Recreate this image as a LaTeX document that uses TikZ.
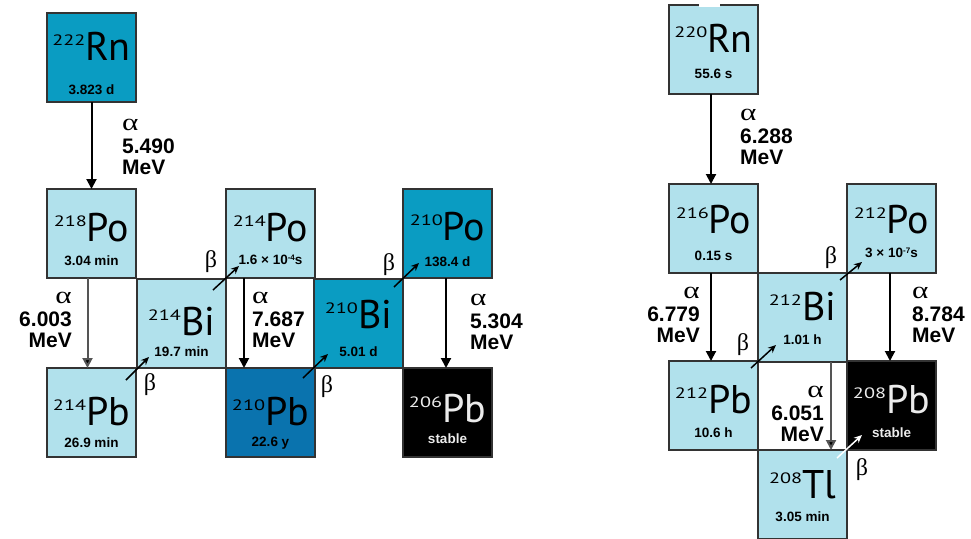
\documentclass[tikz,border=0pt]{standalone}
\usepackage{fontspec}
\usetikzlibrary{arrows.meta}
\newfontfamily\symfont{PT Sans}
\newfontfamily\supfont[FakeStretch=1.35]{PT Sans}
\newfontfamily\hlfont{Liberation Sans}
\newfontfamily\grfont{Liberation Serif}
\newfontfamily\alfont[FakeStretch=1.3]{Liberation Serif}
\definecolor{lightc}{HTML}{B1E1EC}
\definecolor{tealc}{HTML}{0A9CC2}
\definecolor{bluec}{HTML}{0A73AE}
\definecolor{edgec}{HTML}{333333}
\definecolor{greyarr}{HTML}{555555}
\tikzset{
  box/.style={draw=edgec, line width=2pt, minimum width=89pt, minimum height=89pt, inner sep=0pt, outer sep=0pt},
  bx-light/.style={fill=lightc}, bx-teal/.style={fill=tealc}, bx-blue/.style={fill=bluec}, bx-black/.style={fill=black},
  tx-light/.style={text=black}, tx-teal/.style={text=black}, tx-blue/.style={text=black}, tx-black/.style={text=black!8},
  symtxt/.style={inner sep=0pt, anchor=base},
  halftxt/.style={inner sep=0pt, font=\hlfont\bfseries\fontsize{13.5}{14}\selectfont},
  entxt/.style={inner sep=0pt, font=\hlfont\bfseries\fontsize{21}{21}\selectfont},
  altxt/.style={inner sep=0pt, font=\alfont\fontsize{24}{24}\selectfont},
  betxt/.style={inner sep=0pt, font=\grfont\fontsize{24}{24}\selectfont},
  aarr/.style={line width=2pt, draw=black, -{Triangle[width=10pt,length=10pt]}},
  garr/.style={line width=2pt, draw=greyarr, -{Triangle[width=10pt,length=10pt,fill=black]}},
  barr/.style={line width=1.5pt, draw=black, -{Stealth[width=7pt,length=8pt]}},
  warr/.style={line width=1.5pt, draw=white, -{Stealth[width=7pt,length=8pt]}},
}
% name, colour key, x, y, mass, symbol, half-life, symbol baseline offset, half-life offset
\newcommand\isob[9]{%
  \node[box,bx-#2,anchor=north west] (#1) at (#3,#4) {};
  \node[symtxt,tx-#2] (#1-s) at ([yshift=-#8pt]#1.north)
    {\raisebox{0pt}[\height][0pt]{\raisebox{15pt}{\supfont\fontsize{15}{15}\selectfont #5}{\symfont\fontsize{40}{40}\selectfont #6}}};
  \node[halftxt,tx-#2] (#1-h) at ([yshift=-#9pt]#1.north) {#7};
}
% name, side (west/east), x, y of alpha baseline, energy
\newcommand\elab[5]{%
  \node[altxt,anchor=base #2] (#1-a) at (#3,#4) {α};
  \node[entxt,anchor=base #2] (#1-n) at (#3,#4+23) {#5};
  \node[entxt,anchor=base #2] (#1-m) at (#3,#4+44) {MeV};
}
\newcommand\sexp[1]{\raisebox{4.5pt}{\fontsize{8}{8}\selectfont #1}}
\begin{document}
\begin{tikzpicture}[x=1pt,y=-1pt]
\useasboundingbox (0,0) rectangle (971,538);
% ---- uranium (radon-222) chain
\isob{Rn222}{teal}{47}{13}{222}{Rn}{3.823 d}{47}{77}
\isob{Po218}{light}{47}{189}{218}{Po}{3.04 min}{52}{72}
\isob{Bi214}{light}{137}{279}{214}{Bi}{19.7 min}{56}{73}
\isob{Po214}{light}{226}{189}{214}{Po}{1.6 × 10\sexp{-4}s}{52}{71}
\isob{Pb214}{light}{47}{368}{214}{Pb}{26.9 min}{57}{75}
\isob{Pb210}{blue}{226}{368}{210}{Pb}{22.6 y}{57}{75}
\isob{Bi210}{teal}{314}{279}{210}{Bi}{5.01 d}{49}{73}
\isob{Po210}{teal}{403}{189}{210}{Po}{138.4 d}{51}{73}
\isob{Pb206}{black}{403}{368}{206}{Pb}{stable}{54}{71}
% ---- thorium (radon-220) chain
\isob{Rn220}{light}{669}{5}{220}{Rn}{55.6 s}{47}{69}
\isob{Po216}{light}{669}{184}{216}{Po}{0.15 s}{49}{72}
\isob{Po212}{light}{847}{184}{212}{Po}{3 × 10\sexp{-7}s}{49}{69}
\isob{Bi212}{light}{758}{273}{212}{Bi}{1.01 h}{47}{67}
\isob{Pb212}{light}{669}{361}{212}{Pb}{10.6 h}{52}{72}
\isob{Pb208}{black}{847}{361}{208}{Pb}{stable}{52}{72}
\isob{Tl208}{light}{758}{450}{208}{Tl}{3.05 min}{48}{67}
% gap in top border of Rn-220 box
\draw[white,line width=3pt] ([xshift=-14.5pt]Rn220.north) -- ([xshift=6.5pt]Rn220.north);
% ---- alpha decays
\draw[aarr] (Rn222.south) -- (Po218.north);
\draw[garr] ([xshift=-4pt]Po218.south) -- ([xshift=-4pt]Pb214.north);
\draw[aarr] ([xshift=-26.5pt]Po214.south) -- ([xshift=-26.5pt]Pb210.north);
\draw[aarr] ([xshift=-1.5pt]Po210.south) -- ([xshift=-1.5pt]Pb206.north);
\draw[aarr] ([xshift=-2.5pt]Rn220.south) -- ([xshift=-2.5pt]Po216.north);
\draw[aarr] ([xshift=-2.5pt]Po216.south) -- ([xshift=-2.5pt]Pb212.north);
\draw[aarr] ([xshift=-1.5pt]Po212.south) -- ([xshift=-1.5pt]Pb208.north);
\draw[garr] ([xshift=28.5pt]Bi212.south) -- ([xshift=28.5pt]Tl208.north);
\elab{e1}{west}{122}{130}{5.490}
\elab{e2}{east}{72}{303}{6.003}
\elab{e3}{west}{252}{303}{7.687}
\elab{e4}{west}{470}{305}{5.304}
\elab{e5}{west}{740}{120}{6.288}
\elab{e6}{east}{700}{298}{6.779}
\elab{e7}{west}{912}{298}{8.784}
\elab{e8}{east}{824}{397}{6.051}
% ---- beta decays
\draw[barr] ([shift={(-10pt,-12pt)}]Pb214.north east) -- ([shift={(13pt,11pt)}]Pb214.north east);
\draw[barr] ([shift={(-13pt,-11pt)}]Bi214.north east) -- ([shift={(13pt,13pt)}]Bi214.north east);
\draw[barr] ([shift={(-12pt,-10pt)}]Pb210.north east) -- ([shift={(13pt,14pt)}]Pb210.north east);
\draw[barr] ([shift={(-9pt,-8pt)}]Bi210.north east) -- ([shift={(16pt,16pt)}]Bi210.north east);
\draw[barr] ([shift={(-7pt,-7pt)}]Pb212.north east) -- ([shift={(18pt,16pt)}]Pb212.north east);
\draw[barr] ([shift={(-7pt,-7pt)}]Bi212.north east) -- ([shift={(15pt,11pt)}]Bi212.north east);
\draw[warr] ([shift={(-10pt,-8pt)}]Tl208.north east) -- ([shift={(15pt,15pt)}]Tl208.north east);
\node[betxt] (b1) at (150,385) {β};
\node[betxt] (b2) at (211,262) {β};
\node[betxt] (b3) at (327,387) {β};
\node[betxt] (b4) at (389,265) {β};
\node[betxt] (b5) at (743,345) {β};
\node[betxt] (b6) at (831,258) {β};
\node[betxt] (b7) at (862,470) {β};
\end{tikzpicture}
\end{document}
